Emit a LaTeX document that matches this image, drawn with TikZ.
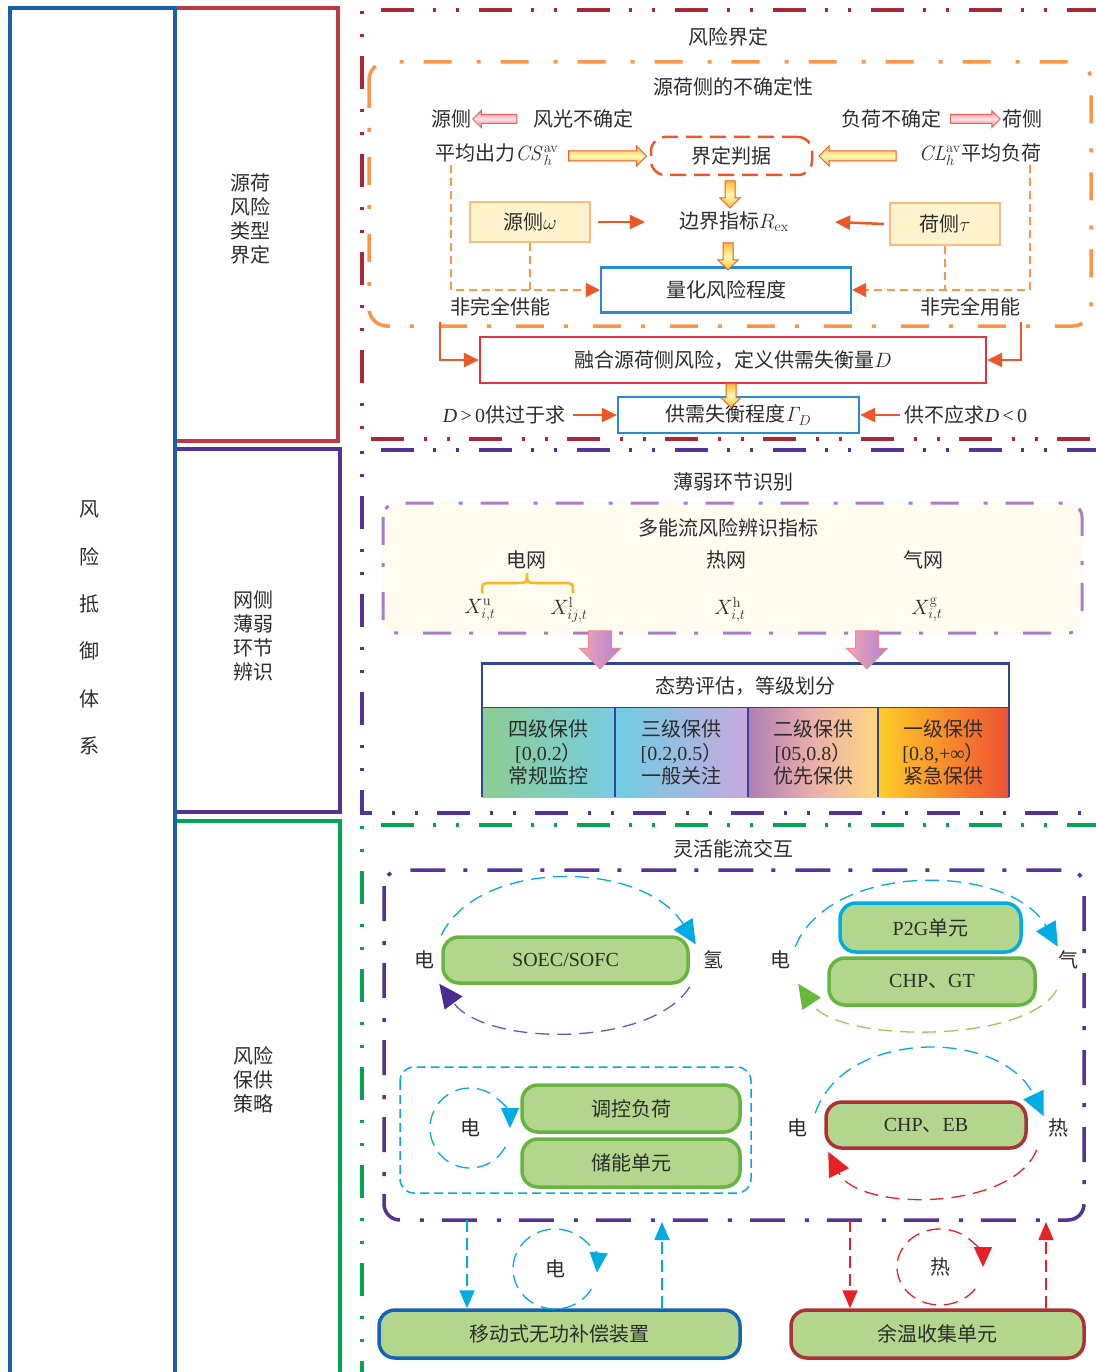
\documentclass[tikz,border=0pt]{standalone}
\usepackage[no-math]{fontspec}
\setmainfont{Noto Sans CJK SC}
\newfontfamily\lat{Liberation Serif}
\usetikzlibrary{arrows.meta,shapes.arrows,calc}
\definecolor{dred}{RGB}{168,40,58}
\definecolor{lred}{RGB}{192,57,64}
\definecolor{lblue}{RGB}{22,96,176}
\definecolor{purp}{RGB}{86,50,150}
\definecolor{lpurp}{RGB}{170,125,200}
\definecolor{grn}{RGB}{0,166,82}
\definecolor{orng}{RGB}{250,150,72}
\definecolor{ored}{RGB}{238,88,40}
\definecolor{bbx}{RGB}{40,140,212}
\definecolor{rbx}{RGB}{226,52,64}
\definecolor{gfill}{RGB}{178,214,140}
\definecolor{gline}{RGB}{104,180,64}
\definecolor{cyn}{RGB}{0,172,228}
\definecolor{redarc}{RGB}{232,32,40}
\definecolor{txt}{RGB}{45,45,45}
\definecolor{ybx}{RGB}{255,243,205}
\definecolor{ybd}{RGB}{250,190,130}
\definecolor{yt}{RGB}{255,190,50}
\definecolor{ym}{RGB}{255,248,180}
\definecolor{pt1}{RGB}{225,100,100}
\definecolor{pm}{RGB}{255,225,225}
\definecolor{sbd}{RGB}{50,70,150}
\definecolor{dkred}{RGB}{170,50,55}
\definecolor{dkblue}{RGB}{20,100,180}
\definecolor{pk}{RGB}{245,165,175}
\definecolor{pv}{RGB}{175,130,215}
\definecolor{yfill}{RGB}{255,251,238}
\definecolor{brc}{RGB}{255,180,30}
\definecolor{sarc}{RGB}{120,80,175}
\definecolor{sarh}{RGB}{75,45,145}
\definecolor{garc}{RGB}{150,205,90}
\definecolor{garh}{RGB}{100,185,60}
\definecolor{c1a}{RGB}{140,205,145}
\definecolor{c1b}{RGB}{120,205,225}
\definecolor{c2a}{RGB}{110,205,228}
\definecolor{c2b}{RGB}{200,170,220}
\definecolor{c3a}{RGB}{175,125,180}
\definecolor{c3m}{RGB}{235,175,170}
\definecolor{c3b}{RGB}{255,215,130}
\definecolor{c4a}{RGB}{255,205,40}
\definecolor{c4b}{RGB}{238,80,50}
\newcommand\fz{\fontsize{20}{24}\selectfont}
\begin{document}
\begin{tikzpicture}[x=1pt,y=-1pt, every node/.append style={font=\fz, text=txt}]
\tikzset{
 lbl/.style={inner sep=0pt},
 frameR/.style={draw=dred, line width=4.5pt, dash pattern=on 33pt off 20pt on 3pt off 20pt on 3pt off 19pt},
 frameP/.style={draw=purp, line width=4pt, dash pattern=on 33pt off 20pt on 3pt off 20pt on 3pt off 19pt},
 frameG/.style={draw=grn, line width=4pt, dash pattern=on 33pt off 20pt on 3pt off 20pt on 3pt off 19pt},
 yarr/.style={single arrow, single arrow head extend=5pt, inner xsep=0pt, inner ysep=4.5pt, minimum height=#1, draw=ored, line width=1pt, top color=yt, bottom color=yt, middle color=ym},
 parr/.style={single arrow, single arrow head extend=4pt, inner xsep=0pt, inner ysep=4pt, minimum height=#1, draw=pt1, line width=1pt, top color=pt1!80, bottom color=pt1!80, middle color=pm},
 varr/.style={single arrow, single arrow head extend=9pt, inner xsep=0pt, inner ysep=11pt, minimum height=#1, draw=pk!80!red, line width=1pt, left color=pk, right color=pv},
 oarr/.style={draw=ored, line width=2.5pt, -{Triangle[length=15pt,width=14pt]}},
 odash/.style={draw=orng, line width=1.6pt, dash pattern=on 8pt off 5pt},
 ybox/.style={draw=ybd, fill=ybx, line width=2pt},
 bbox/.style={draw=bbx, line width=2.2pt},
 rbox/.style={draw=rbx, line width=2.2pt},
 gbox/.style={draw=gline, fill=gfill, line width=3.5pt, rounded corners=16pt},
 cell/.style={inner sep=0pt, align=center, font=\fontsize{20}{23.5}\selectfont},
 darc/.style={line width=1.3pt, dash pattern=on 14pt off 8pt},
 dline/.style={line width=1.6pt, dash pattern=on 12pt off 6pt},
}
\fill[white] (0,0) rectangle (1095,1372);
\useasboundingbox (0,0) rectangle (1095,1372);

% ---------- left columns
\draw[lred, line width=3.5pt] (175,8) rectangle (338,441);
\draw[purp, line width=3.5pt] (175,449) rectangle (340,812);
\draw[grn, line width=3.5pt] (175,821) rectangle (340,1385);
\draw[lblue, line width=4pt] (10,8) rectangle (175,1385);
\node[lbl, align=center, font=\fontsize{20}{47.3}\selectfont] (lt0) at (89,628) {风\\险\\抵\\御\\体\\系};
\node[lbl, align=center] (lt1) at (250,219) {源荷\\风险\\类型\\界定};
\node[lbl, align=center] (lt2) at (253,636) {网侧\\薄弱\\环节\\辨识};
\node[lbl, align=center] (lt3) at (253,1080) {风险\\保供\\策略};

% ---------- section frames
\draw[frameR] (1100,10) -- (362,10) -- (362,439) -- (1100,439);
\draw[frameP] (1100,450) -- (362,450) -- (362,813) -- (1100,813);
\draw[frameG] (1100,825) -- (362,825) -- (362,1385);

% ---------- section 1
\node[lbl] (t1) at (728,37) {风险界定};
\draw[orng, line width=3.5pt, dash pattern=on 28pt off 20pt on 4pt off 25pt, rounded corners=18pt] (369,62) rectangle (1091,326);
\node[lbl] (t2) at (733,87) {源荷侧的不确定性};
\node[lbl] (ys) at (451,119) {源侧};
\node[lbl] (fg) at (583,119) {风光不确定};
\node[lbl] (fh) at (891,119) {负荷不确定};
\node[lbl] (hs) at (1022,119) {荷侧};
\node[parr=44pt, rotate=180] (pa1) at (497,119) {};
\node[parr=50pt] (pa2) at (973,119) {};

\node[lbl] (cs) at (497,155) {平均出力$\mathit{CS}_h^{\mathrm{av}}$};
\node[draw=ored, line width=2.5pt, dash pattern=on 16pt off 8pt, rounded corners=14pt, minimum width=161pt, minimum height=38pt] (jd) at (731.5,156) {界定判据};
\node[lbl] (cl) at (980,155) {$\mathit{CL}_h^{\mathrm{av}}$平均负荷};

\node[ybox, minimum width=120pt, minimum height=40pt] (sw) at (530,222) {源侧$\omega$};
\node[lbl] (rex) at (734,222) {边界指标$R_{\mathrm{ex}}$};
\node[ybox, minimum width=110pt, minimum height=42pt] (ht) at (945,224) {荷侧$\tau$};
\draw[oarr] ($(sw.east)+(7,0)$) -- ($(rex.west)+(-34,0)$);
\draw[oarr] ($(ht.west)+(-5,0)$) -- ($(rex.east)+(46,0)$);

\node[bbox, minimum width=250pt, minimum height=45pt] (qr) at (726,290) {量化风险程度};
\coordinate (dl) at (451,165);
\coordinate (dr) at (1030,165);
\draw[odash, -{Triangle[length=14pt,width=14pt,color=ored]}] (dl) |- (qr.west);
\draw[odash] (sw.south) -- (sw.south |- qr.west);
\draw[odash, -{Triangle[length=14pt,width=14pt,color=ored]}] (dr) |- (qr.east);
\draw[odash] (ht.south) -- (ht.south |- qr.east);
\node[lbl] (nf1) at (500,307) {非完全供能};
\node[lbl] (nf2) at (970,307) {非完全用能};

\node[rbox, minimum width=506pt, minimum height=46pt] (fu) at (733,360) {融合源荷侧风险，定义供需失衡量$D$};
\coordinate (ol) at (440,322);
\coordinate (or) at (1021,322);
\draw[oarr] (ol) |- (fu.west);
\draw[oarr] (or) |- (fu.east);

\node[bbox, minimum width=241pt, minimum height=36pt] (gd) at (738.5,415) {供需失衡程度$\mathit{\Gamma}_D$};
\node[lbl] (dp) at (504,415) {{\lat\itshape D}{\lat\,>\,0}供过于求};
\node[lbl] (dn) at (966,415) {供不应求{\lat\itshape D}{\lat\,<\,0}};
\draw[oarr] ($(dp.east)+(8,0)$) -- (gd.west);
\draw[oarr] ($(dn.west)+(-5,0)$) -- (gd.east);

\node[yarr=78pt] (ya1) at (605,156) {};
\node[yarr=77pt, rotate=180] (ya2) at (860,156) {};
\node[yarr=27pt, rotate=-90] (ya3) at (730,192) {};
\node[yarr=27pt, rotate=-90] (ya4) at (728,254) {};
\node[yarr=24pt, rotate=-90] (ya5) at (731,393) {};

% ---------- section 2
\node[lbl] (t3) at (733,482) {薄弱环节识别};
\draw[lpurp, fill=yfill, line width=3pt, dash pattern=on 28pt off 18pt on 4pt off 25pt, rounded corners=14pt] (383,503) rectangle (1082,633);
\node[lbl] (t4) at (728,528) {多能流风险辨识指标};
\node[lbl] (dw) at (526,560) {电网};
\node[lbl] (rw) at (726,560) {热网};
\node[lbl] (qw) at (923,560) {气网};
\draw[brc, line width=2.5pt] (482,593) .. controls (482,583) .. (492,583) -- (517,583) .. controls (527,583) .. (527,573) .. controls (527,583) .. (537,583) -- (563,583) .. controls (573,583) .. (573,593);
\node[lbl] (xu) at (480,610) {$X_{i,t}^{\mathrm{u}}$};
\node[lbl] (xl) at (569,610) {$X_{ij,t}^{\mathrm{l}}$};
\node[lbl] (xh) at (730,610) {$X_{i,t}^{\mathrm{h}}$};
\node[lbl] (xg) at (927,610) {$X_{i,t}^{\mathrm{g}}$};

\node[draw=sbd, line width=2.5pt, minimum width=527pt, minimum height=45pt] (sa) at (745.5,686) {态势评估，等级划分};
\node[cell, left color=c1a, right color=c1b, minimum width=133pt, minimum height=89pt] (c1) at (548.5,752.5) {四级保供\\{\lat [0,0.2}）\\常规监控};
\node[cell, left color=c2a, right color=c2b, minimum width=133pt, minimum height=89pt] (c2) at (681.5,752.5) {三级保供\\{\lat [0.2,0.5}）\\一般关注};
\node[cell, left color=c3a, right color=c3b, middle color=c3m, minimum width=130pt, minimum height=89pt] (c3) at (813,752.5) {二级保供\\{\lat [05,0.8}）\\优先保供};
\node[cell, left color=c4a, right color=c4b, minimum width=131pt, minimum height=89pt] (c4) at (943.5,752.5) {一级保供\\{\lat [0.8,+∞}）\\紧急保供};
\draw[sbd, line width=2pt] (c1.north east) -- (c1.south east);
\draw[sbd, line width=2pt] (c2.north east) -- (c2.south east);
\draw[sbd, line width=2pt] (c3.north east) -- (c3.south east);
\draw[sbd, line width=1.5pt] (c1.north west) -- (c1.south west);
\draw[sbd, line width=1.5pt] (c4.north east) -- (c4.south east);
\node[varr=38pt, rotate=-90] (va1) at (600,644) {};
\node[varr=38pt, rotate=-90] (va2) at (867,644) {};

% ---------- section 3
\node[lbl] (t5) at (733,849) {灵活能流交互};
\draw[purp, line width=3.5pt, dash pattern=on 35pt off 20pt on 4pt off 18pt, rounded corners=16pt] (384,870) rectangle (1084,1220);
\draw[cyn, line width=1.5pt, dash pattern=on 9pt off 5pt, rounded corners=14pt] (400,1067) rectangle (751,1193);

\node[gbox, minimum width=245pt, minimum height=46pt] (sv) at (565.5,960) {\lat SOEC/SOFC};
\node[lbl] (e1) at (424,960) {电};
\node[lbl] (h1) at (713,960) {氢};
\draw[darc, cyn, -{Triangle[length=24pt,width=22pt]}] (sv.north west) .. controls +(37,-77) and +(-53,-85) .. ($(sv.north east)+(6,9)$);
\draw[darc, sarc, -{Triangle[length=24pt,width=22pt,color=sarh]}] ($(sv.south east)+(0,2)$) .. controls +(-38,61) and +(47,63) .. ($(sv.south west)+(-2,-1)$);

\node[gbox, draw=cyn, minimum width=181pt, minimum height=49pt] (pg) at (930.5,927.5) {{\lat P2G}单元};
\node[gbox, minimum width=206pt, minimum height=47pt] (cg) at (932,981.5) {{\lat CHP}、{\lat GT}};
\node[lbl] (e2) at (780,960) {电};
\node[lbl] (q2) at (1068,960) {气};
\draw[darc, cyn, -{Triangle[length=24pt,width=22pt]}] ($(e2.north east)+(5,-4)$) .. controls +(35,-86) and +(-48,-84) .. ($(q2.north west)+(0,-4)$);
\draw[darc, garc, -{Triangle[length=24pt,width=22pt,color=garh]}] ($(cg.south east)+(20,-17)$) .. controls +(-30,54) and +(40,60) .. ($(cg.south west)+(-29,-23)$);

\node[lbl] (e3) at (470,1128) {电};
\draw[darc, cyn, -{Triangle[length=20pt,width=18pt]}] ($(e3)+(28:40)$) arc[start angle=28, end angle=360, radius=40];
\node[gbox, minimum width=218pt, minimum height=47pt] (tk) at (631,1108.5) {调控负荷};
\node[gbox, minimum width=218pt, minimum height=48pt] (cn) at (631,1163) {储能单元};

\node[gbox, draw=dkred, minimum width=200pt, minimum height=46pt] (eb) at (926,1125) {{\lat CHP}、{\lat EB}};
\node[lbl] (e4) at (797,1128) {电};
\node[lbl] (r4) at (1058,1128) {热};
\draw[darc, cyn, -{Triangle[length=24pt,width=22pt]}] ($(eb.north west)+(-9,13)$) .. controls +(28,-85) and +(-42,-88) .. ($(eb.north east)+(16,16)$);
\draw[darc, redarc, -{Triangle[length=24pt,width=22pt]}] ($(eb.south east)+(9,0)$) .. controls +(-25,62) and +(30,60) .. ($(eb.south west)+(4,2)$);

\node[gbox, draw=dkblue, minimum width=361pt, minimum height=48pt] (mb) at (559.5,1334) {移动式无功补偿装置};
\node[gbox, draw=dkred, minimum width=293pt, minimum height=48pt] (yw) at (937.5,1334) {余温收集单元};
\coordinate (p1) at (467,1220);
\coordinate (p2) at (662,1222);
\coordinate (p3) at (850,1220);
\coordinate (p4) at (1046,1222);
\draw[dline, cyn, -{Triangle[length=18pt,width=15pt]}] (p1) -- (p1 |- mb.north);
\draw[dline, cyn, -{Triangle[length=18pt,width=15pt]}] (p2 |- mb.north) -- (p2);
\draw[dline, redarc, -{Triangle[length=18pt,width=15pt]}] (p3) -- (p3 |- yw.north);
\draw[dline, redarc, -{Triangle[length=18pt,width=15pt]}] (p4 |- yw.north) -- (p4);
\node[lbl] (e5) at (555,1269) {电};
\draw[darc, cyn, -{Triangle[length=20pt,width=18pt]}] ($(e5)+(30:42 and 40)$) arc[start angle=30, end angle=365, x radius=42, y radius=40];
\node[lbl] (r5) at (940,1267) {热};
\draw[darc, redarc, -{Triangle[length=20pt,width=18pt]}] ($(r5)+(35:43 and 38)$) arc[start angle=35, end angle=360, x radius=43, y radius=38];
\end{tikzpicture}
\end{document}
